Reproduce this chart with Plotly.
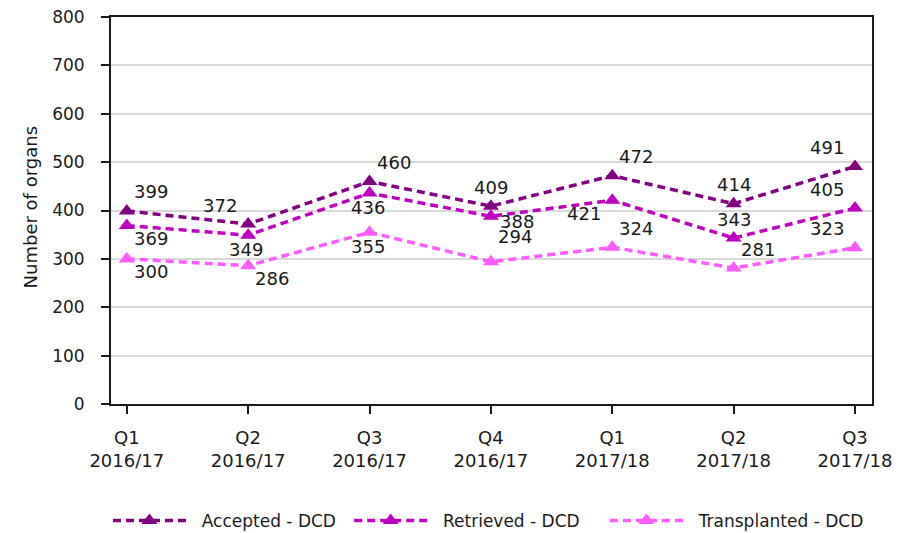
import plotly.graph_objects as go

categories = ["Q1<br>2016/17", "Q2<br>2016/17", "Q3<br>2016/17", "Q4<br>2016/17",
              "Q1<br>2017/18", "Q2<br>2017/18", "Q3<br>2017/18"]
accepted = [399, 372, 460, 409, 472, 414, 491]
retrieved = [369, 349, 436, 388, 421, 343, 405]
transplanted = [300, 286, 355, 294, 324, 281, 323]

# label placement (style) per point
acc_pos = ["top right", "top left", "top right", "top center", "top right", "top center", "top left"]
ret_pos = ["bottom right", "bottom center", "bottom center", "bottom right tight", "bottom left", "top center", "top left"]
tra_pos = ["bottom right", "bottom right", "bottom center", "top right high", "top right", "top right", "top left"]

SHIFTS = {
    "top right": (24, 19), "top left": (-28, 19), "top center": (0, 19),
    "bottom right": (24, -13), "bottom left": (-28, -13), "bottom center": (-2, -14),
    "bottom right tight": (26, -5), "top right high": (24, 25),
}

FONT = "DejaVu Sans, Verdana, sans-serif"
NB = "\u00a0\u00a0"
xs = list(range(len(categories)))
fig = go.Figure()
series = [
    ("Accepted - DCD", accepted, "#800080", acc_pos, "legend"),
    ("Retrieved - DCD", retrieved, "#C000C0", ret_pos, "legend2"),
    ("Transplanted - DCD", transplanted, "#FF5CFF", tra_pos, "legend3"),
]
for name, vals, col, pos, leg in series:
    fig.add_trace(go.Scatter(
        x=xs, y=vals, name=NB + name, mode="lines+markers",
        line=dict(color=col, width=3.5, dash="8px,5px"),
        marker=dict(symbol="triangle-up", size=14, color=col),
        cliponaxis=False, legend=leg,
    ))
    for xi, v, p in zip(xs, vals, pos):
        dx, dy = SHIFTS[p]
        fig.add_annotation(x=xi, y=v, text=str(v), showarrow=False,
                           xshift=dx, yshift=dy, xanchor="center", yanchor="middle",
                           borderpad=0,
                           font=dict(family=FONT, size=18, color="#1a1a1a"))

fig.add_annotation(xref="paper", yref="paper", x=-0.1064, y=0.508,
                   text="Number of organs", textangle=-90, showarrow=False,
                   xanchor="center", yanchor="middle",
                   font=dict(family=FONT, size=18, color="#1a1a1a"))

legend_common = dict(orientation="h", yref="container", y=0.0375, yanchor="middle",
                     xanchor="left",
                     font=dict(family=FONT, size=17, color="#1a1a1a"), itemwidth=73,
                     bgcolor="rgba(0,0,0,0)")

fig.update_layout(
    width=907, height=533,
    margin=dict(l=103, r=43, t=9, b=137),
    paper_bgcolor="white", plot_bgcolor="white",
    font=dict(family=FONT, size=17, color="#1a1a1a"),
    showlegend=True,
    legend=dict(x=-0.004, **legend_common),
    legend2=dict(x=0.313, **legend_common),
    legend3=dict(x=0.649, **legend_common),
    xaxis=dict(
        tickmode="array", tickvals=xs, ticktext=categories,
        range=[-0.13, 6.14], showgrid=False, zeroline=False,
        showline=True, linecolor="#1a1a1a", linewidth=2, mirror=True,
        ticks="outside", ticklen=8, tickwidth=1.5, tickcolor="#1a1a1a",
        tickfont=dict(size=18), automargin=False, ticklabelstandoff=8,
    ),
    yaxis=dict(
        range=[0, 800], dtick=100, showgrid=True, gridcolor="#d9d9d9", gridwidth=1.5,
        zeroline=False, showline=True, linecolor="#1a1a1a", linewidth=2, mirror=True,
        ticks="outside", ticklen=8, tickwidth=1.5, tickcolor="#1a1a1a",
        tickfont=dict(size=17), automargin=False, ticklabelstandoff=13,
        ticklabeloverflow="allow",
    ),
)
fig.write_html("out.html")
